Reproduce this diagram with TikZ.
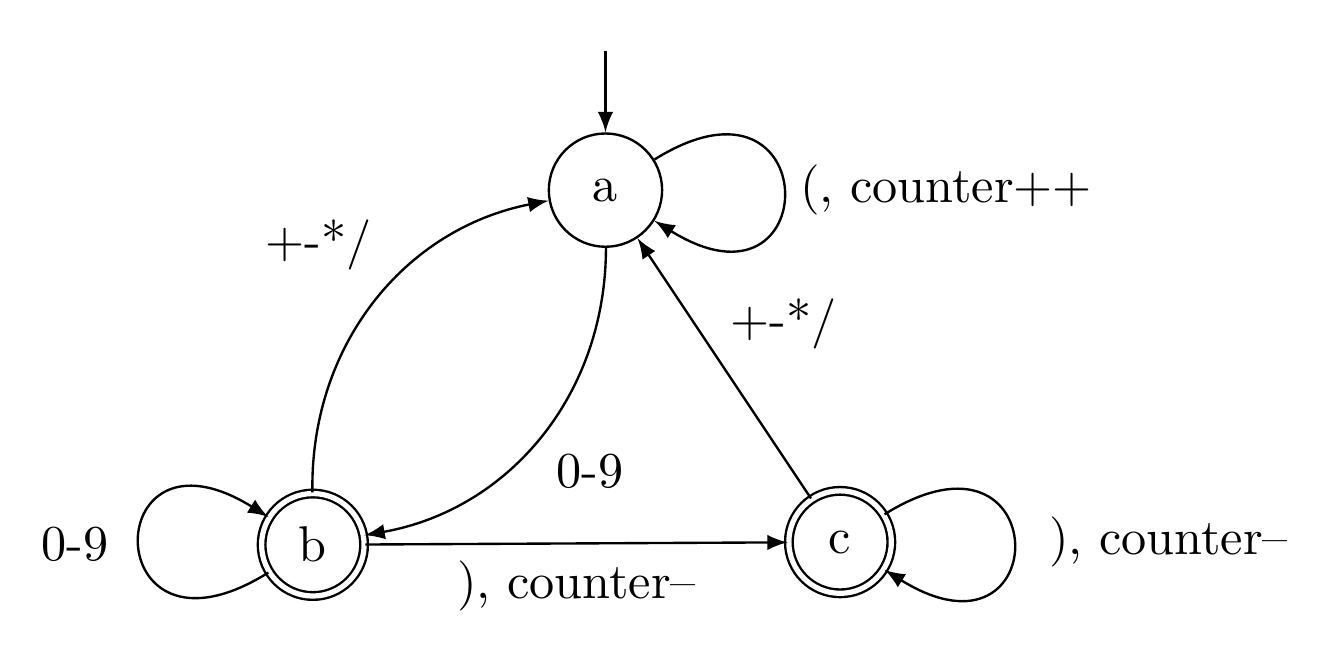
\documentclass[tikz,border=0pt]{standalone}
\usetikzlibrary{automata,arrows}

\begin{document}
\begin{tikzpicture}[>=latex, auto, line width=0.5pt, font=\fontsize{10.6}{12.7}\selectfont,
	every state/.style={draw, circle, minimum size=0.84cm, inner sep=0pt},
	accepting/.style={double, double distance=1.1pt, minimum size=0.76cm},
	selfloop/.style={->, min distance=1.5cm}]
\def\ax{4.49}
\def\ay{-1.41}
\useasboundingbox (0,0) rectangle (9.9,-4.83);

% states
\node[state, initial above, initial text={}, initial distance=0.6cm] (a) at (\ax,\ay) {a};
\node[state, accepting] (b) at (2.32,-4.04) {b};
\node[state, accepting] (c) at (6.23,-4.02) {c};

% transitions
\path[->]
	(a) edge[selfloop, out=32, in=-32] node[right] {(, counter++} (a)
	(a) edge[bend left=40] node[pos=0.5, below right] {0-9} (b)
	(b) edge[selfloop, out=212, in=148] node[left=3pt] {0-9} (b)
	(b) edge[bend left=40] node[pos=0.55, above left] {+-*/} (a)
	(b) edge node[below] {), counter--} (c)
	(c) edge node[pos=0.67, right=4pt] {+-*/} (a)
	(c) edge[selfloop, out=32, in=-32] node[right=4pt] {), counter--} (c);

\end{tikzpicture}
\end{document}
